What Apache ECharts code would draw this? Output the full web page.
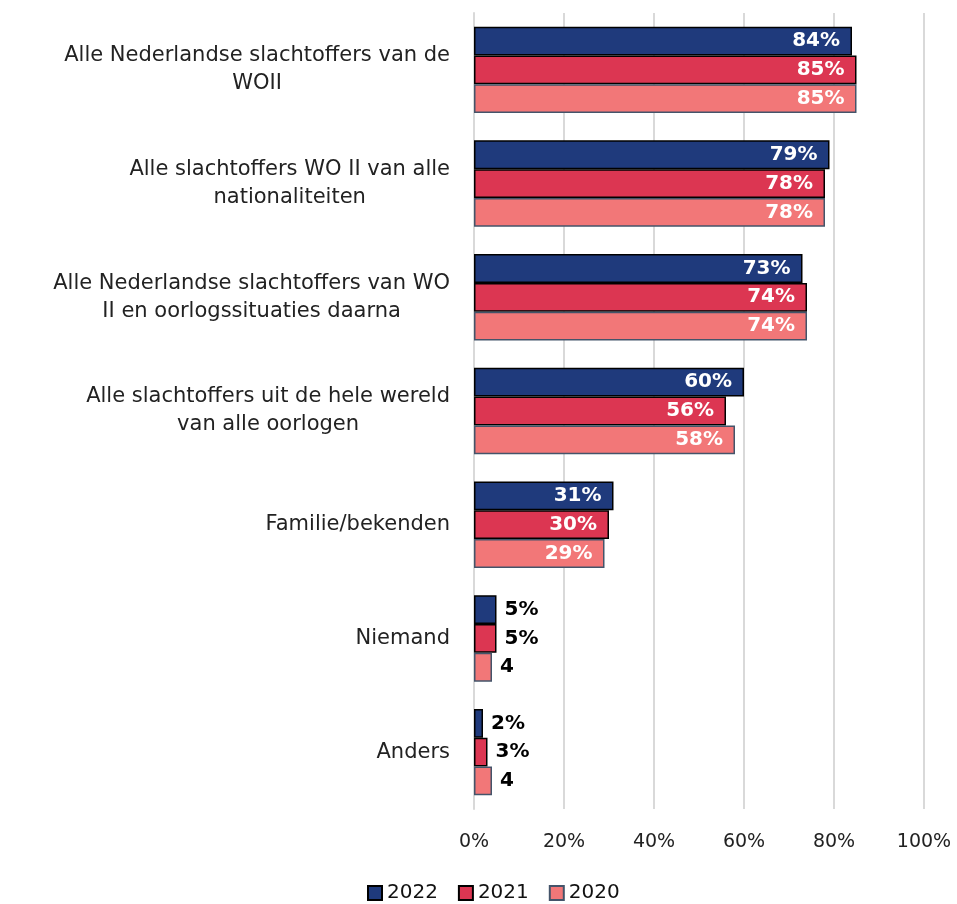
<!DOCTYPE html>
<html>
<head>
<meta charset="utf-8">
<script src="https://cdn.jsdelivr.net/npm/echarts@6/dist/echarts.min.js"></script>
<style>
  html, body { margin: 0; padding: 0; background: #fff; }
  #chart { width: 957px; height: 904px; }
</style>
</head>
<body>
<div id="chart"></div>
<script>
// categories, top to bottom
var categories = [
  'Alle Nederlandse slachtoffers van de\nWOII',
  'Alle slachtoffers WO II van alle\nnationaliteiten',
  'Alle Nederlandse slachtoffers van WO\nII en oorlogssituaties daarna',
  'Alle slachtoffers uit de hele wereld\nvan alle oorlogen',
  'Familie/bekenden',
  'Niemand',
  'Anders'
];
var years = ['2022', '2021', '2020'];
var values2022 = [84, 79, 73, 60, 31, 5, 2];
var values2021 = [85, 78, 74, 56, 30, 5, 3];
var values2020 = [85, 78, 74, 58, 29, 4, 4];
var labels2022 = ['84%', '79%', '73%', '60%', '31%', '5%', '2%'];
var labels2021 = ['85%', '78%', '74%', '56%', '30%', '5%', '3%'];
var labels2020 = ['85%', '78%', '74%', '58%', '29%', '4', '4'];
var xTicks = [0, 20, 40, 60, 80, 100];

var font = '"Century Gothic", "URW Gothic", "DejaVu Sans", sans-serif';

function buildData(vals, labels) {
  return vals.map(function (v, i) {
    var small = v < 10;
    return {
      value: v,
      label: {
        show: true,
        formatter: labels[i],
        position: small ? 'right' : 'insideRight',
        distance: small ? 8 : 12,
        color: small ? '#000' : '#fff',
        fontWeight: 'bold',
        fontSize: 20,
        fontFamily: font
      }
    };
  });
}

function makeSeries(name, vals, labels, color, border) {
  return {
    name: name,
    type: 'bar',
    barGap: '0%',
    barCategoryGap: '24%',
    data: buildData(vals, labels),
    itemStyle: { color: color, borderColor: border, borderWidth: 1.5 }
  };
}

var chart = echarts.init(document.getElementById('chart'));
chart.setOption({
  animation: false,
  backgroundColor: '#fff',
  textStyle: { fontFamily: font },
  grid: { left: 474, right: 33, top: 13, bottom: 95 },
  legend: {
    top: 878,
    left: 362,
    icon: 'rect',
    itemWidth: 14,
    itemHeight: 14,
    itemGap: 20,
    textStyle: { fontSize: 20, color: '#111', fontFamily: font },
    data: years
  },
  xAxis: {
    type: 'value',
    min: xTicks[0],
    max: xTicks[xTicks.length - 1],
    interval: 20,
    axisLabel: { formatter: '{value}%', fontSize: 19, color: '#222', margin: 24 },
    splitLine: { lineStyle: { color: '#d9d9d9', width: 2 } },
    axisLine: { show: false },
    axisTick: { show: false }
  },
  yAxis: {
    type: 'category',
    inverse: true,
    data: categories,
    axisLabel: {
      color: '#222',
      margin: 24,
      align: 'right',
      formatter: function (v) {
        return v.split('\n').map(function (line) { return '{c|' + line + '}'; }).join('\n');
      },
      rich: {
        c: { align: 'center', fontSize: 21, lineHeight: 28, color: '#222', fontFamily: font }
      }
    },
    axisLine: { show: true, lineStyle: { color: '#d9d9d9', width: 2 } },
    axisTick: { show: false }
  },
  series: [
    makeSeries(years[0], values2022, labels2022, '#1f3a7c', '#000'),
    makeSeries(years[1], values2021, labels2021, '#dc3652', '#000'),
    makeSeries(years[2], values2020, labels2020, '#f27778', '#44546a')
  ]
});
</script>
</body>
</html>
